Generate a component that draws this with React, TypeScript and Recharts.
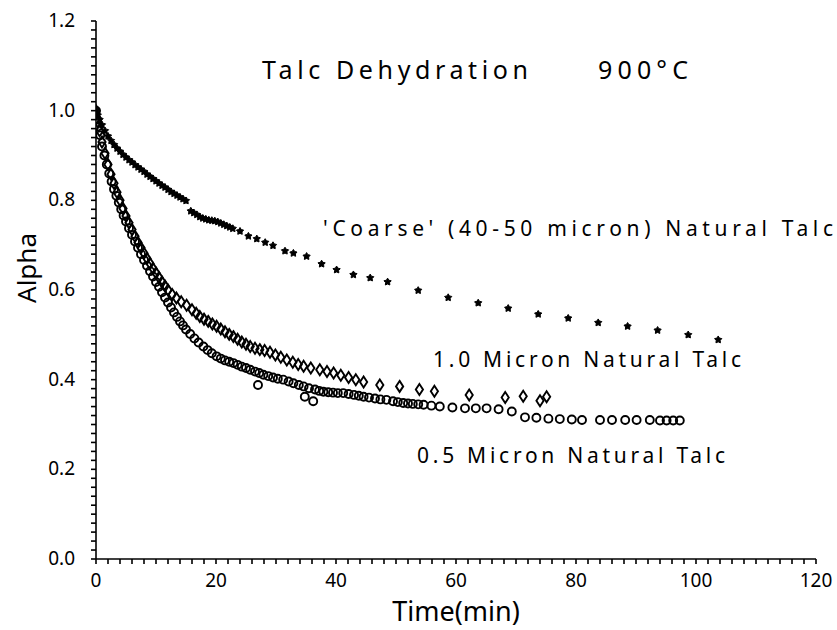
import React from "react";
import { Scatter, ScatterChart, XAxis, YAxis } from "recharts";

// [time (min), alpha]
const coarseTalc: [number, number][] = [
  [0, 1.0], [0.3, 0.99], [0.6, 0.98], [1, 0.968], [1.5, 0.955], [2, 0.943], [2.5, 0.933], [3, 0.924],
  [3.5, 0.916], [4, 0.909], [4.5, 0.902], [5, 0.896], [5.5, 0.89], [6, 0.885], [6.5, 0.879], [7, 0.874],
  [7.5, 0.869], [8, 0.864], [8.5, 0.858], [9, 0.853], [9.5, 0.848], [10, 0.843], [10.5, 0.838], [11, 0.833],
  [11.5, 0.829], [12, 0.824], [12.5, 0.819], [13, 0.815], [13.5, 0.811], [14, 0.807], [14.5, 0.803], [15, 0.799],
  [15.8, 0.776], [16.3, 0.772], [16.8, 0.768], [17.3, 0.763], [17.8, 0.76], [18.3, 0.758], [18.8, 0.756],
  [19.3, 0.755], [19.8, 0.754], [20.3, 0.752], [20.8, 0.749], [21.3, 0.746], [21.8, 0.743], [22.3, 0.74],
  [22.8, 0.737], [24, 0.731], [25.4, 0.72], [26.8, 0.714], [28.2, 0.706], [29.5, 0.699], [31.5, 0.687],
  [32.9, 0.682], [35.1, 0.675], [37.6, 0.658], [40.1, 0.645], [42.9, 0.634], [45.7, 0.627], [48.6, 0.618],
  [53.7, 0.599], [58.7, 0.583], [63.7, 0.571], [68.7, 0.559], [73.7, 0.546], [78.7, 0.537], [83.7, 0.527],
  [88.6, 0.519], [93.6, 0.51], [98.7, 0.5], [103.7, 0.489],
];

const oneMicron: [number, number][] = [
  [0, 1.0], [0.3, 0.975], [0.6, 0.955], [1, 0.93], [1.5, 0.905], [2, 0.88], [2.5, 0.858], [3, 0.838],
  [3.5, 0.818], [4, 0.8], [4.5, 0.782], [5, 0.765], [5.5, 0.75], [6, 0.735], [6.5, 0.72], [7, 0.706],
  [7.5, 0.694], [8, 0.682], [8.5, 0.67], [9, 0.659], [9.5, 0.648], [10, 0.638], [10.5, 0.628], [11, 0.618],
  [11.5, 0.609], [12, 0.6], [12.7, 0.59], [13.4, 0.582], [14.2, 0.574], [15.1, 0.566], [16, 0.556],
  [16.7, 0.548], [17.3, 0.541], [18, 0.535], [18.7, 0.53], [19.4, 0.524], [20.1, 0.519], [20.8, 0.513],
  [21.5, 0.507], [22.2, 0.501], [22.9, 0.496], [23.6, 0.49], [24.3, 0.484], [25, 0.479], [25.7, 0.474],
  [26.5, 0.47], [27.3, 0.467], [28.1, 0.465], [29, 0.461], [29.9, 0.455], [30.8, 0.45], [31.8, 0.444],
  [32.8, 0.439], [33.7, 0.434], [34.6, 0.43], [35.8, 0.426], [37.3, 0.422], [38.5, 0.418], [39.6, 0.415],
  [40.8, 0.41], [42.1, 0.405], [43.3, 0.4], [44.6, 0.395], [47.3, 0.388], [50.6, 0.385], [53.9, 0.378],
  [56.4, 0.374], [62.2, 0.366], [68.2, 0.36], [71.2, 0.363], [74, 0.353], [75.1, 0.362],
];

const halfMicron: [number, number][] = [
  [0, 1.0], [0.2, 0.98], [0.4, 0.965], [0.7, 0.945], [1, 0.92], [1.4, 0.9], [1.8, 0.88], [2.2, 0.86],
  [2.6, 0.842], [3, 0.825], [3.4, 0.81], [3.8, 0.795], [4.2, 0.78], [4.6, 0.766], [5, 0.753], [5.5, 0.738],
  [6, 0.723], [6.5, 0.708], [7, 0.694], [7.5, 0.68], [8, 0.667], [8.5, 0.654], [9, 0.642], [9.5, 0.63],
  [10, 0.618], [10.5, 0.607], [11, 0.595], [11.5, 0.583], [12, 0.572], [12.5, 0.561], [13, 0.55],
  [13.5, 0.54], [14, 0.53], [14.5, 0.521], [15, 0.512], [15.7, 0.502], [16.4, 0.492], [17.1, 0.483],
  [17.9, 0.474], [18.6, 0.466], [19.3, 0.459], [20.1, 0.452], [20.8, 0.447], [21.5, 0.443], [22.2, 0.44],
  [22.9, 0.437], [23.6, 0.433], [24.3, 0.429], [25, 0.426], [25.7, 0.422], [26.5, 0.418], [27, 0.388],
  [27.2, 0.415], [27.9, 0.411], [28.7, 0.408], [29.5, 0.405], [30.3, 0.402], [31.2, 0.4], [32.1, 0.396],
  [32.9, 0.392], [33.8, 0.388], [34.6, 0.385], [34.8, 0.362], [35.5, 0.381], [36.2, 0.352], [36.5, 0.378],
  [37.2, 0.375], [37.9, 0.373], [38.7, 0.372], [39.5, 0.371], [40.3, 0.37], [41.2, 0.37], [42.1, 0.368],
  [43, 0.366], [43.8, 0.364], [44.6, 0.362], [45.5, 0.36], [46.5, 0.358], [47.4, 0.356], [48.4, 0.355],
  [49.5, 0.352], [50.3, 0.35], [51.2, 0.348], [52, 0.347], [52.8, 0.346], [53.7, 0.345], [54.6, 0.344],
  [55.9, 0.342], [57.3, 0.34], [59.4, 0.338], [61.5, 0.336], [63.3, 0.336], [65.1, 0.336], [67.1, 0.334],
  [69.3, 0.329], [71.5, 0.316], [73.4, 0.315], [75.4, 0.313], [77.3, 0.312], [79.3, 0.311], [81, 0.31],
  [84, 0.31], [86, 0.31], [88.2, 0.31], [90.1, 0.31], [92.3, 0.31], [94, 0.309], [95.1, 0.309],
  [96.2, 0.309], [97.3, 0.309],
];

const xLabels = [0, 20, 40, 60, 80, 100, 120];
const yLabels = [0, 0.2, 0.4, 0.6, 0.8, 1.0, 1.2];
const xTicks = Array.from({ length: 61 }, (_, i) => i * 2);
const yTicks = Array.from({ length: 61 }, (_, i) => Math.round(i * 2) / 100);

const toPoints = (rows: [number, number][]) => rows.map(([t, a]) => ({ t, a }));

const FONT = "'Noto Sans', sans-serif";

const XTick = ({ x, y, payload }: any) =>
  xLabels.includes(payload.value) ? (
    <text x={x} y={y + 21} textAnchor="middle" fontSize={19} fontFamily={FONT} fill="#000">
      {payload.value}
    </text>
  ) : (
    <g />
  );

const YTick = ({ x, y, payload }: any) =>
  yLabels.some((v) => Math.abs(v - payload.value) < 1e-6) ? (
    <text x={x - 14} y={y + 6} textAnchor="end" fontSize={19} fontFamily={FONT} fill="#000">
      {payload.value.toFixed(1)}
    </text>
  ) : (
    <g />
  );

const OpenCircle = ({ cx, cy }: any) => (
  <circle cx={cx} cy={cy} r={4} fill="none" stroke="#000" strokeWidth={1.9} />
);

const OpenDiamond = ({ cx, cy }: any) => (
  <path
    d={`M${cx},${cy - 5.5}L${cx + 3.6},${cy}L${cx},${cy + 5.5}L${cx - 3.6},${cy}Z`}
    fill="none"
    stroke="#000"
    strokeWidth={1.9}
  />
);

const Star = ({ cx, cy }: any) => {
  const pts: string[] = [];
  for (let i = 0; i < 10; i++) {
    const r = i % 2 === 0 ? 3.8 : 2.1;
    const ang = (Math.PI / 5) * i - Math.PI / 2;
    pts.push(`${cx + r * Math.cos(ang)},${cy + r * Math.sin(ang)}`);
  }
  return <polygon points={pts.join(" ")} fill="#000" stroke="#000" strokeWidth={1} />;
};

export default function App() {
  return (
    <div style={{ position: "absolute", left: 0, top: 0, width: 837, height: 630, background: "#fff" }}>
      <ScatterChart width={837} height={630} margin={{ top: 21, right: 21, bottom: 21, left: 46 }}>
        <XAxis
          type="number"
          dataKey="t"
          domain={[0, 120]}
          ticks={xTicks}
          interval={0}
          tick={<XTick />}
          tickSize={5}
          height={50}
          stroke="#000"
          strokeWidth={1.6}
          allowDataOverflow
        />
        <YAxis
          type="number"
          dataKey="a"
          domain={[0, 1.2]}
          ticks={yTicks}
          interval={0}
          tick={<YTick />}
          tickSize={5}
          width={50}
          stroke="#000"
          strokeWidth={1.6}
          allowDataOverflow
        />
        <Scatter data={toPoints(oneMicron)} shape={<OpenDiamond />} isAnimationActive={false} />
        <Scatter data={toPoints(halfMicron)} shape={<OpenCircle />} isAnimationActive={false} />
        <Scatter data={toPoints(coarseTalc)} shape={<Star />} isAnimationActive={false} />
      </ScatterChart>
      <svg
        width={837}
        height={630}
        style={{ position: "absolute", left: 0, top: 0, pointerEvents: "none" }}
        fontFamily={FONT}
        fill="#000"
      >
        <text x={262} y={79} fontSize={25} textLength={266} lengthAdjust="spacing">
          Talc  Dehydration
        </text>
        <text x={598} y={79} fontSize={25} textLength={90} lengthAdjust="spacing">
          900°C
        </text>
        <text x={323} y={236} fontSize={21} textLength={510} lengthAdjust="spacing">
          'Coarse' (40-50 micron) Natural Talc
        </text>
        <text x={433} y={367} fontSize={21} textLength={308} lengthAdjust="spacing">
          1.0 Micron Natural Talc
        </text>
        <text x={417} y={463} fontSize={21} textLength={308} lengthAdjust="spacing">
          0.5 Micron Natural Talc
        </text>
        <text x={456} y={621} fontSize={27} textAnchor="middle">
          Time(min)
        </text>
        <text x={36} y={268} fontSize={26} textAnchor="middle" transform="rotate(-90 36 268)">
          Alpha
        </text>
      </svg>
    </div>
  );
}
